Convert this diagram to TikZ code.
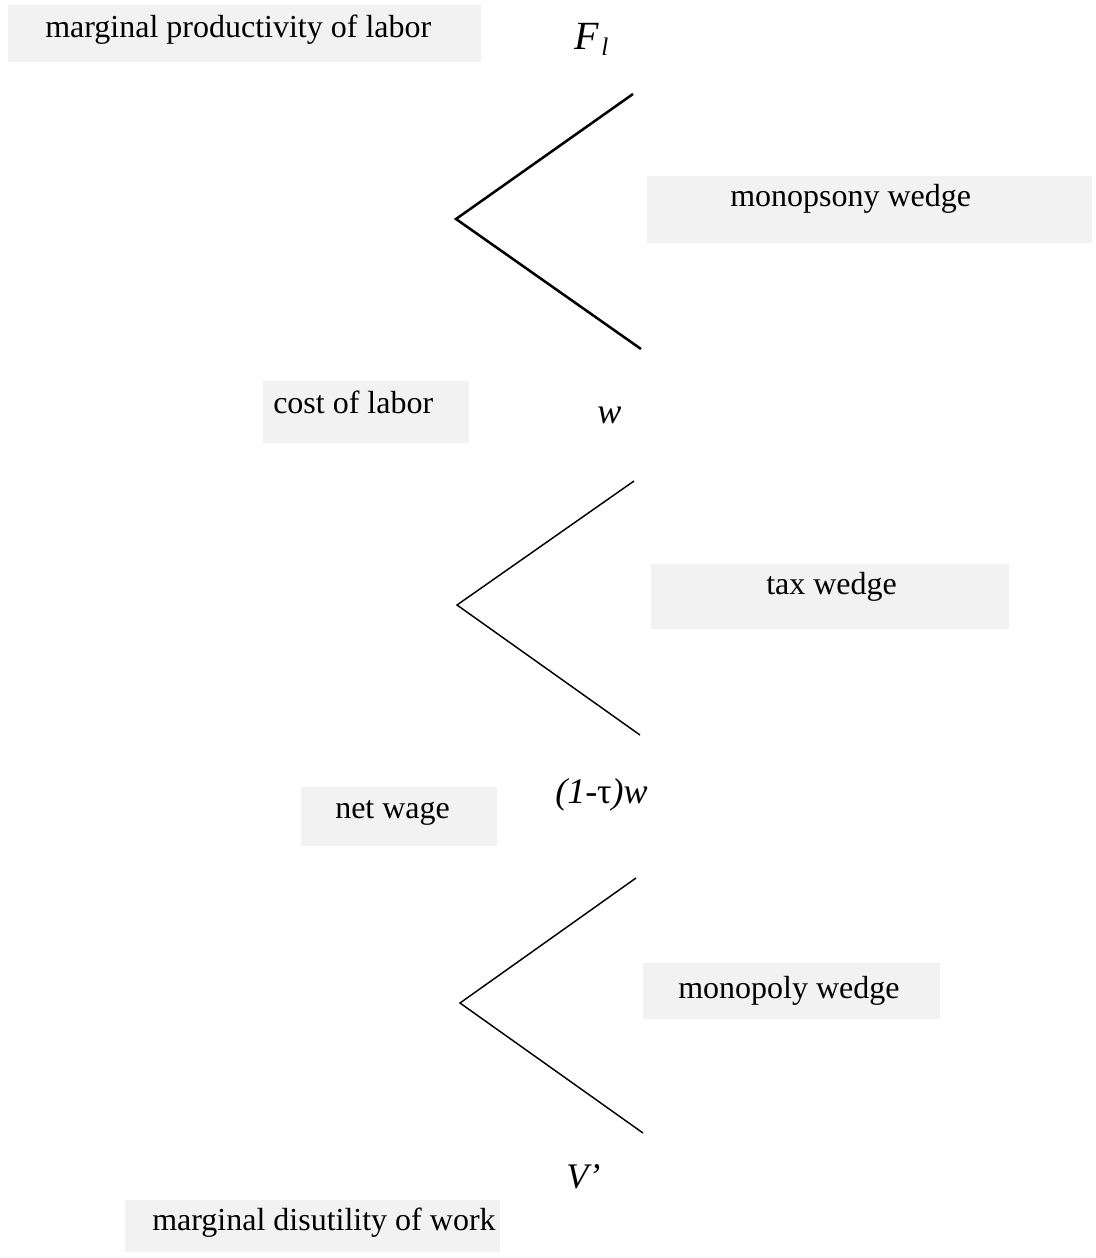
\documentclass[tikz,border=0pt]{standalone}
\usepackage{fontspec}
\setmainfont{Liberation Serif}
\usepackage{tikz}
\usetikzlibrary{calc}
\definecolor{boxgray}{RGB}{242,242,242}
\tikzset{>=latex,
	boxtext/.style={anchor=base west,inner sep=0pt,font=\fontsize{24}{28}\selectfont},
	symb/.style={anchor=base west,inner sep=0pt,font=\fontsize{27}{32}\selectfont\itshape},
	wedgeline/.style={line width=1.1pt,line join=miter}}

\begin{document}
\begin{tikzpicture}[x=0.75pt,y=-0.75pt]
			\useasboundingbox (0,0) rectangle (1096,1258);
			% shaded boxes
			\fill[boxgray] (8,5) rectangle (481,62);
			\fill[boxgray] (647,176) rectangle (1092,243);
			\fill[boxgray] (263,381) rectangle (469,443);
			\fill[boxgray] (651,564) rectangle (1009,629);
			\fill[boxgray] (301,787) rectangle (497,846);
			\fill[boxgray] (643,963) rectangle (940,1019);
			\fill[boxgray] (125,1200) rectangle (500,1252);
			% labels
			\node[boxtext] (mpl) at (45,37) {marginal productivity of labor};
			\node[boxtext] (monopsony) at (730,206) {monopsony wedge};
			\node[boxtext] (cost) at (273,413) {cost of labor};
			\node[boxtext] (tax) at (766,594) {tax wedge};
			\node[boxtext] (net) at (335,818) {net wage};
			\node[boxtext] (monopoly) at (678,998) {monopoly wedge};
			\node[boxtext] (mdw) at (152,1230) {marginal disutility of work};
			\node[symb] (Fl) at (574,49) {\fontsize{30}{32}\selectfont F\kern2pt\raisebox{-0.35ex}{\fontsize{19}{19}\selectfont l}};
			\node[symb] (w) at (597,423) {w};
			\node[symb] (netw) at (555,803) {(1-{\upshape τ})w};
			\node[symb] (Vp) at (566,1188) {V’};
			% wedges
			\coordinate (A1) at (633,94);
			\coordinate (O1) at (456,219);
			\coordinate (B1) at (641,349);
			\coordinate (A2) at (634,481);
			\coordinate (O2) at (457,605);
			\coordinate (B2) at (640,735);
			\coordinate (A3) at (636,878);
			\coordinate (O3) at (460,1003);
			\coordinate (B3) at (643,1133);
			\draw[wedgeline,line width=1.9pt] (A1)--(O1)--(B1);
			\draw[wedgeline] (A2)--(O2)--(B2);
			\draw[wedgeline] (A3)--(O3)--(B3);
		\end{tikzpicture}
\end{document}
